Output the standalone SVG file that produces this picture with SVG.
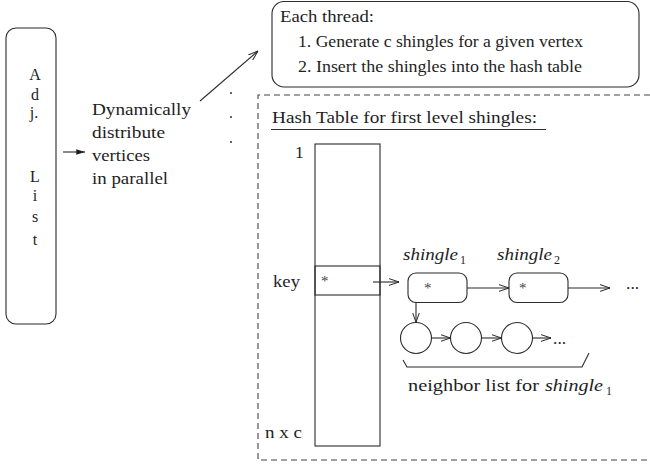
<svg xmlns="http://www.w3.org/2000/svg" width="650" height="465" viewBox="0 0 650 465">
  <style>
    .ln { fill: none; stroke: #2b2b2b; stroke-width: 1.1; }
    .dash { fill: none; stroke: #444; stroke-width: 1.1; stroke-dasharray: 6 4; }
    .t { font-size: 17.5px; fill: #1e1e1e; }
    .stack { font-size: 16px; fill: #1e1e1e; }
    .it { font-style: italic; }
    .sub { font-size: 12px; font-style: normal; }
    .star { font-size: 15px; fill: #444; }
  </style>
  <defs>
    <marker id="open" viewBox="0 0 10 8" refX="10" refY="4" markerWidth="10" markerHeight="8" markerUnits="userSpaceOnUse" orient="auto">
      <path d="M0,0.6 L10,4 L0,7.4" fill="none" stroke="#2b2b2b" stroke-width="1"/>
    </marker>
    <marker id="solid" viewBox="0 0 10 8" refX="10" refY="4" markerWidth="10" markerHeight="7" markerUnits="userSpaceOnUse" orient="auto">
      <path d="M0,0.8 L10,4 L0,7.2 Z" fill="#1e1e1e"/>
    </marker>
  </defs>

  <g font-family="'Liberation Serif', 'Times New Roman', 'DejaVu Serif', serif">
  <!-- adjacency list column -->
  <g id="adj-list">
    <rect class="ln" x="6" y="28" width="50" height="296" rx="10"/>
    <g class="stack" text-anchor="middle">
      <text x="35" y="80">A</text>
      <text x="35" y="100">d</text>
      <text x="34" y="118">j.</text>
      <text x="35" y="182">L</text>
      <text x="35" y="201">i</text>
      <text x="35" y="222">s</text>
      <text x="35" y="245">t</text>
    </g>
  </g>

  <!-- distribution note -->
  <g id="distribute" class="t">
    <text x="92" y="115" textLength="99" lengthAdjust="spacingAndGlyphs">Dynamically</text>
    <text x="92" y="138" textLength="73" lengthAdjust="spacingAndGlyphs">distribute</text>
    <text x="92" y="161" textLength="58" lengthAdjust="spacingAndGlyphs">vertices</text>
    <text x="92" y="184" textLength="76" lengthAdjust="spacingAndGlyphs">in parallel</text>
  </g>

  <!-- per-thread work -->
  <g id="thread">
    <rect class="ln" x="272" y="1.5" width="367" height="85.5" rx="12"/>
    <g class="t">
      <text x="280" y="22" textLength="94" lengthAdjust="spacingAndGlyphs">Each thread:</text>
      <text x="298" y="47" textLength="285" lengthAdjust="spacingAndGlyphs">1. Generate c shingles for a given vertex</text>
      <text x="298" y="72" textLength="284" lengthAdjust="spacingAndGlyphs">2. Insert the shingles into the hash table</text>
    </g>
  </g>

  <!-- more threads -->
  <g id="thread-dots" fill="#333">
    <circle cx="231" cy="93" r="1"/>
    <circle cx="231" cy="117" r="1"/>
    <circle cx="231" cy="142" r="1"/>
  </g>

  <!-- hash table region -->
  <g id="hash-table">
    <path class="dash" d="M650,95 H258 V460 H650"/>
    <text class="t" x="272" y="123" textLength="265" lengthAdjust="spacingAndGlyphs">Hash Table for first level shingles:</text>
    <line class="ln" x1="271" y1="129.5" x2="546" y2="129.5"/>
    <rect class="ln" x="315" y="144" width="65" height="302"/>
    <rect class="ln" x="315" y="266" width="65" height="29"/>
    <text class="star" x="321" y="286">*</text>
    <text class="t" x="295" y="158">1</text>
    <text class="t" x="273" y="287" textLength="27" lengthAdjust="spacingAndGlyphs">key</text>
    <text class="t" x="265" y="438" textLength="37" lengthAdjust="spacingAndGlyphs">n x c</text>
  </g>

  <!-- shingle entries -->
  <g id="shingle1">
    <rect class="ln" x="408" y="273" width="59" height="29.5" rx="8"/>
    <text class="star" x="424" y="293">*</text>
    <text class="t it" x="403" y="260" textLength="55" lengthAdjust="spacingAndGlyphs">shingle</text>
    <text class="t sub" x="460" y="264">1</text>
  </g>
  <g id="shingle2">
    <rect class="ln" x="509" y="273" width="59" height="29.5" rx="8"/>
    <text class="star" x="519" y="293">*</text>
    <text class="t it" x="497" y="260" textLength="55" lengthAdjust="spacingAndGlyphs">shingle</text>
    <text class="t sub" x="554" y="264">2</text>
  </g>
  <text id="more-shingles" class="t" x="626" y="289">...</text>

  <!-- neighbor list -->
  <g id="neighbors">
    <circle class="ln" cx="416" cy="338" r="15.5"/>
    <circle class="ln" cx="466" cy="338" r="15.5"/>
    <circle class="ln" cx="517" cy="338" r="15.5"/>
    <text class="t" x="553" y="344">...</text>
    <path class="ln" d="M403,360 L407,367 H582 L589,353"/>
    <text class="t" x="408" y="391" textLength="131" lengthAdjust="spacingAndGlyphs">neighbor list for</text>
    <text class="t it" x="545" y="391" textLength="58" lengthAdjust="spacingAndGlyphs">shingle</text>
    <text class="t sub" x="606" y="395">1</text>
  </g>
  </g>

  <!-- connectors -->
  <g id="connectors" class="ln">
    <line x1="63" y1="152" x2="85" y2="152" marker-end="url(#solid)"/>
    <line x1="200" y1="101" x2="258" y2="51" marker-end="url(#open)"/>
    <line x1="373" y1="282" x2="399" y2="282" marker-end="url(#open)"/>
    <line x1="467" y1="288" x2="509" y2="288" marker-end="url(#open)"/>
    <line x1="568" y1="288" x2="610" y2="288" marker-end="url(#open)"/>
    <line x1="416" y1="302.5" x2="416" y2="322.5" marker-end="url(#open)"/>
    <line x1="431.5" y1="338" x2="450.5" y2="338" marker-end="url(#open)"/>
    <line x1="481.5" y1="338" x2="501.5" y2="338" marker-end="url(#open)"/>
    <line x1="532.5" y1="338" x2="551" y2="338" marker-end="url(#open)"/>
  </g>
</svg>
